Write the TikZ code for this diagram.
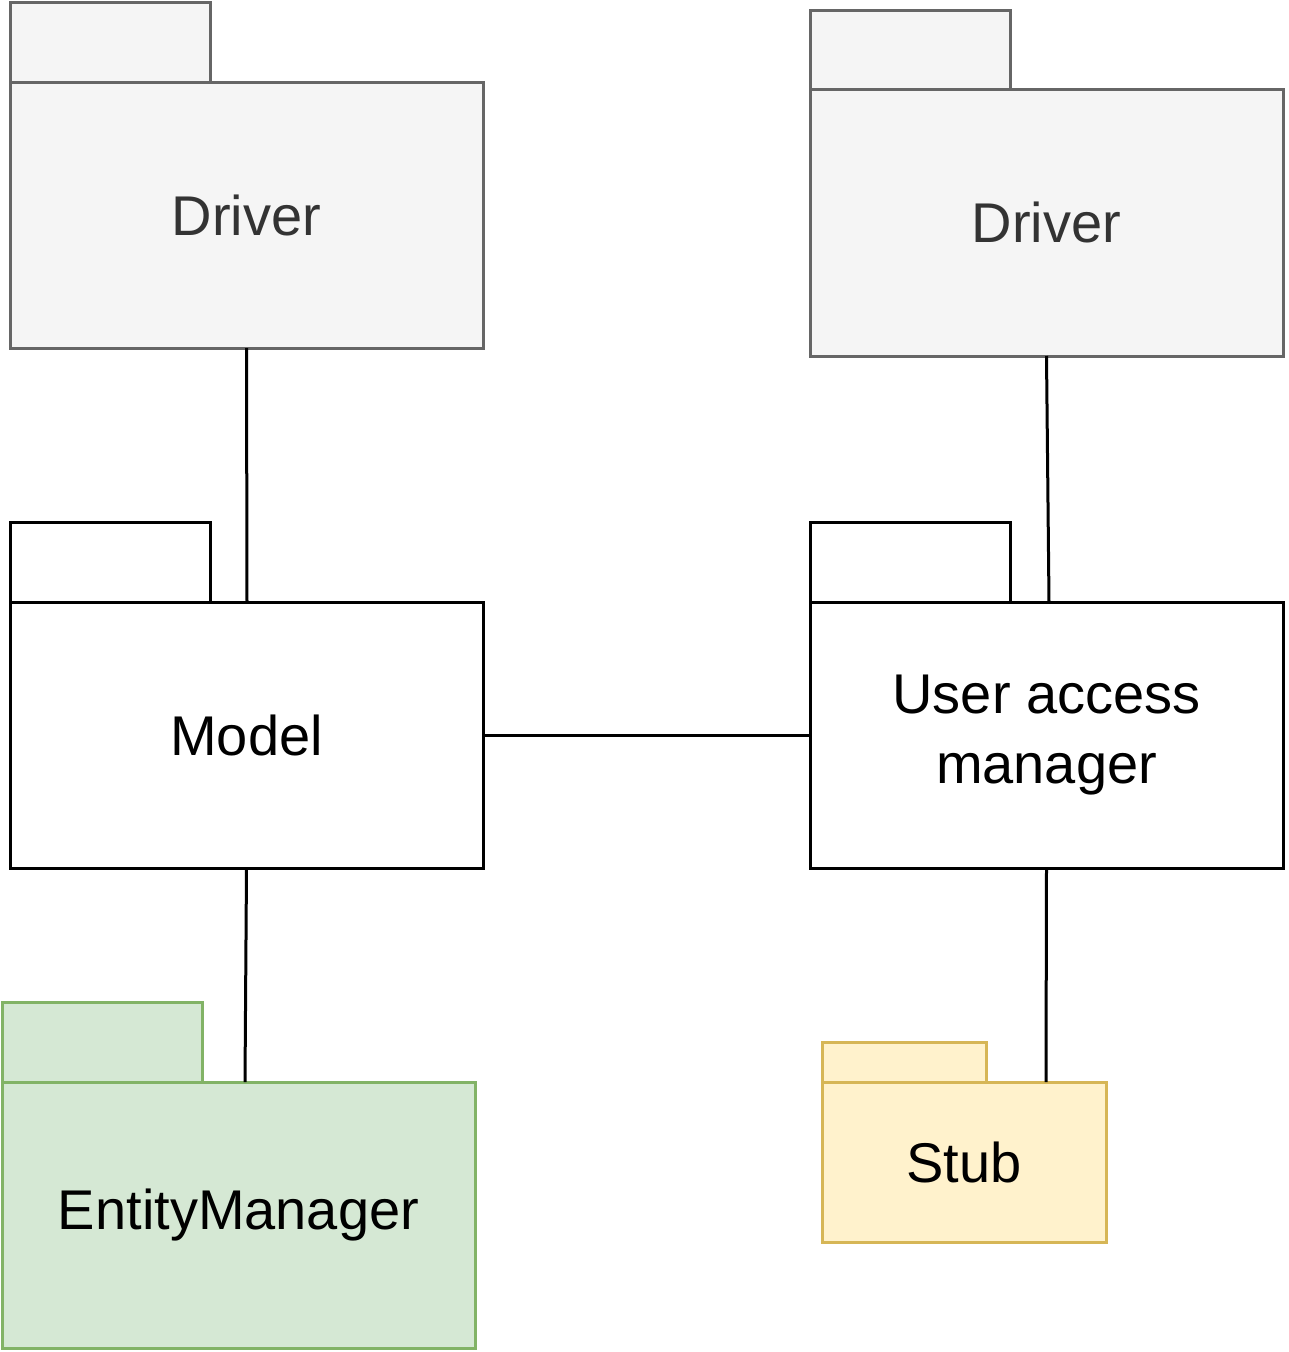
\documentclass[tikz,border=0pt]{standalone}
\usepackage{fontspec}
\setmainfont{Liberation Sans}
\usetikzlibrary{calc}
\definecolor{grayfill}{HTML}{F5F5F5}
\definecolor{graystroke}{HTML}{666666}
\definecolor{grtext}{HTML}{333333}
\definecolor{greenfill}{HTML}{D5E8D4}
\definecolor{greenstroke}{HTML}{82B366}
\definecolor{yellowfill}{HTML}{FFF2CC}
\definecolor{yellowstroke}{HTML}{D6B656}
\tikzset{
  box/.style={rectangle, draw, line width=3pt, inner sep=0pt, outer sep=0pt,
    font=\fontsize{56}{70}\selectfont, align=center},
  graypkg/.style={box, fill=grayfill, draw=graystroke, text=grtext},
  plainpkg/.style={box, fill=white, draw=black, text=black},
  greenpkg/.style={box, fill=greenfill, draw=greenstroke, text=black},
  yellowpkg/.style={box, fill=yellowfill, draw=yellowstroke, text=black},
  link/.style={draw=black, line width=3pt}
}
\begin{document}
\begin{tikzpicture}[x=1pt,y=-1pt]
\useasboundingbox (0,0) rectangle (1288,1352);
% Driver left
\node[graypkg, minimum width=200, minimum height=80] (drvLt) at (110,42) {};
\node[graypkg, minimum width=473, minimum height=266] (drvL) at (246.5,215) {Driver};
% Driver right
\node[graypkg, minimum width=200, minimum height=79] (drvRt) at (910,49.5) {};
\node[graypkg, minimum width=473, minimum height=267] (drvR) at (1046.5,222.5) {Driver};
% Model
\node[plainpkg, minimum width=200, minimum height=80] (modelt) at (110,562) {};
\node[plainpkg, minimum width=473, minimum height=266] (model) at (246.5,735) {Model};
% User access manager
\node[plainpkg, minimum width=200, minimum height=80] (uamt) at (910,562) {};
\node[plainpkg, minimum width=473, minimum height=266] (uam) at (1046.5,735) {User access\\manager};
% EntityManager
\node[greenpkg, minimum width=200, minimum height=80] (emt) at (102,1042) {};
\node[greenpkg, minimum width=473, minimum height=266] (em) at (238.5,1215) {EntityManager};
% Stub
\node[yellowpkg, minimum width=164, minimum height=40] (stubt) at (904,1062) {};
\node[yellowpkg, minimum width=284, minimum height=160] (stub) at (964,1162) {Stub};
% connectors
\draw[link] (drvL.south) -- ($(model.north west)+(237,0)$);
\draw[link] (drvR.south) -- ($(uam.north west)+(239,0)$);
\draw[link] (model.east) -- (uam.west);
\draw[link] (model.south) -- ($(em.north west)+(243,0)$);
\draw[link] (uam.south) -- ($(stub.north west)+(224,0)$);
\end{tikzpicture}
\end{document}
